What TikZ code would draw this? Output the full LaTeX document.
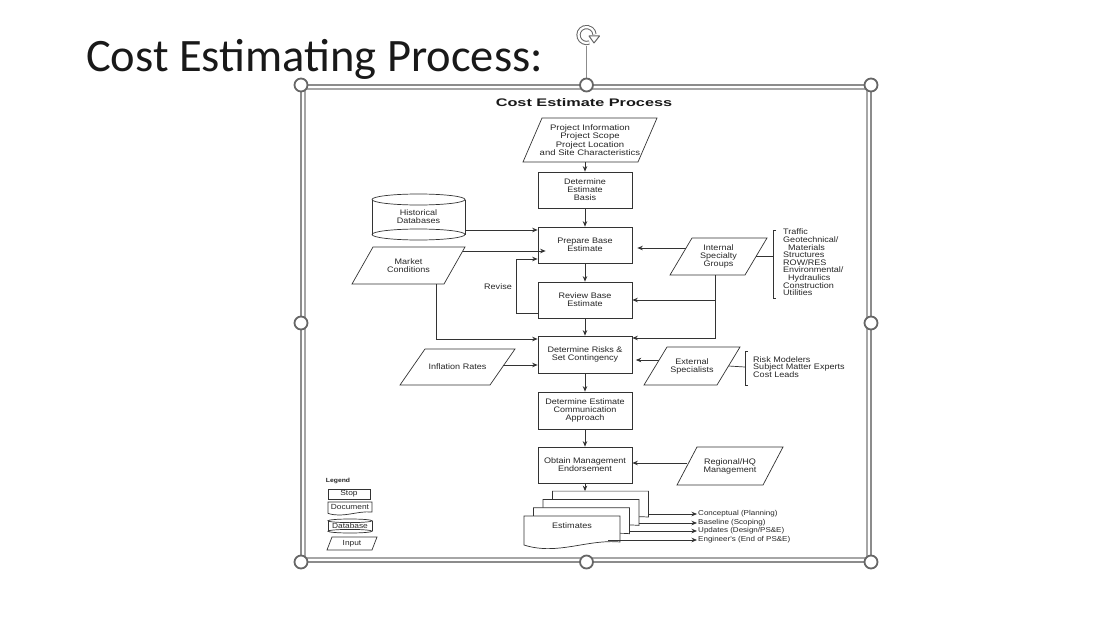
\documentclass[tikz,border=0pt]{standalone}
\usepackage{fontspec}
\usepackage{tikz}
\usetikzlibrary{calc,arrows,arrows.meta,shapes,positioning,shadows}

\newfontfamily\dgfont[FakeStretch=1.13]{Liberation Sans}
\newfontfamily\infofont[FakeStretch=1.19]{Liberation Sans}
\newfontfamily\hdfont[FakeStretch=1.48]{Liberation Sans}
\newfontfamily\slidefont{Carlito}

% slanted input box round a node, #2 = half of the slant
\newcommand\slantbox[2]{\draw[ln] ([shift={(-#2,0)}]#1.south west) -- ([shift={(#2,0)}]#1.north west) -- ([shift={(#2,0)}]#1.north east) -- ([shift={(-#2,0)}]#1.south east) -- cycle;}
% document sheet with a wavy bottom, #3 = width
\newcommand\docshape[3][]{\draw[ln,#1] ([shift={(0,#3/32)}]#2.south west) -- (#2.north west) -- (#2.north east) -- (#2.south east) .. controls ([shift={(-0.35*#3,-#3/32)}]#2.south east) and ([shift={(0.35*#3,#3/7)}]#2.south west) .. ([shift={(0,#3/32)}]#2.south west) -- cycle;}
% database drum, #2 = x radius, #3 = y radius
\newcommand\dbshape[3]{%
  \draw[ln] ([shift={(0,#3)}]#1.north) ellipse[x radius=#2, y radius=#3];
  \draw[ln] ([shift={(0,-#3)}]#1.south) ellipse[x radius=#2, y radius=#3];
  \draw[ln] ([shift={(0,#3)}]#1.north west) -- ([shift={(0,-#3)}]#1.south west);
  \draw[ln] ([shift={(0,#3)}]#1.north east) -- ([shift={(0,-#3)}]#1.south east);}

\begin{document}
\begin{tikzpicture}[x=1pt, y=-1pt,
  ln/.style={draw=black!80, line width=0.7pt},
  txt/.style={font=\dgfont\fontsize{8}{8}\selectfont, text=black!85, inner sep=1pt, align=center},
  proc/.style={txt, ln, fill=white, minimum width=94, minimum height=36, drop shadow={shadow xshift=1pt, shadow yshift=-1pt, fill=black!35}},
  inp/.style={txt, inner sep=0pt, outer sep=0pt},
  docn/.style={inner sep=0pt, outer sep=0pt, minimum width=96, minimum height=26},
  lgtxt/.style={txt, font=\dgfont\fontsize{7.4}{7.4}\selectfont, inner sep=0pt, outer sep=0pt},
  outtxt/.style={txt, font=\dgfont\fontsize{7.1}{7.1}\selectfont, anchor=west},
  frame/.style={draw=black!45, line width=1.1pt},
  handle/.style={draw=black!60, line width=1.8pt, fill=white},
  >={Stealth[length=5.5pt, width=4.5pt]}]
		\useasboundingbox (0,0) rectangle (1113,623);
		\node[anchor=base west, font=\slidefont\fontsize{46.5}{50}\selectfont, text=black!90, inner sep=0pt] (slide) at (86,72) {Cost Estimating Process:};
		\node[font=\hdfont\bfseries\fontsize{11}{11}\selectfont, text=black!90, inner sep=0pt] (ttl) at (584,103) {Cost Estimate Process};

		% main column
		\node[inp, font=\infofont\fontsize{8}{8.3}\selectfont, minimum width=115, minimum height=44] (info) at (590,140) {Project Information\\Project Scope\\Project Location\\and Site Characteristics};
		\slantbox{info}{9.5}
		\node[proc] (basis) at (585,190) {Determine\\Estimate\\Basis};
		\node[proc] (prep) at (585,245) {Prepare Base\\Estimate};
		\node[proc] (review) at (585,300) {Review Base\\Estimate};
		\node[proc, minimum height=37] (risk) at (585,354.5) {Determine Risks \&\\Set Contingency};
		\node[proc, minimum height=37] (comm) at (585,410.5) {Determine Estimate\\Communication\\Approach};
		\node[proc] (endorse) at (585,465) {Obtain Management\\Endorsement};

		% inputs
		\node[inp, minimum width=93, minimum height=46] (hist) at (418.5,217) {Historical\\Databases};
		\dbshape{hist}{46.5}{5.5}
		\node[inp, minimum width=92, minimum height=37] (market) at (408.5,265.5) {Market\\Conditions};
		\slantbox{market}{10.5}
		\node[inp, minimum width=75, minimum height=37] (internal) at (718.5,256.5) {Internal\\Specialty\\Groups};
		\slantbox{internal}{11}
		\node[inp, minimum width=90, minimum height=36] (inflation) at (457.5,367) {Inflation Rates};
		\slantbox{inflation}{12.5}
		\node[inp, minimum width=73, minimum height=38] (external) at (692,366) {External\\Specialists};
		\slantbox{external}{11.5}
		\node[inp, minimum width=86, minimum height=38] (regional) at (730,466) {Regional/HQ\\Management};
		\slantbox{regional}{10}

		\node[txt, anchor=north west, align=left, font=\dgfont\fontsize{8}{7.6}\selectfont, inner sep=0pt] (ilist) at (783,229) {Traffic\\Geotechnical/\\\hspace{5pt}Materials\\Structures\\ROW/RES\\Environmental/\\\hspace{5pt}Hydraulics\\Construction\\Utilities};
		\node[txt, anchor=west, align=left, font=\dgfont\fontsize{8}{7.5}\selectfont, inner sep=0pt] (elist) at (753,367) {Risk Modelers\\Subject Matter Experts\\Cost Leads};
		\node[txt] (rev) at (498,287) {Revise};

		% estimates stack
		\foreach \k in {4,3,2,1} {
			\node[docn] (est\k) at ({572+9.5*(\k-1)}, {529-8.3*(\k-1)}) {};
			\docshape[fill=white]{est\k}{96}
		}
		\node[txt] (esttxt) at ([shift={(0,-3)}]est1.center) {Estimates};
		\node[outtxt] (cpt) at (697,514) {Conceptual (Planning)};
		\node[outtxt] (bsl) at (697,523) {Baseline (Scoping)};
		\node[outtxt] (upd) at (697,531) {Updates (Design/PS\&E)};
		\node[outtxt] (eng) at (697,540) {Engineer's (End of PS\&E)};

		% connectors
		\draw[ln] (info.south -| basis.north) [->] to (basis);
		\draw[ln] (basis) [->] to (prep);
		\draw[ln] (prep) [->] to (review);
		\draw[ln] (review) [->] to (risk);
		\draw[ln] (risk) [->] to (comm);
		\draw[ln] (comm) [->] to (endorse);
		\draw[ln] (endorse) [->] to (est4.north -| endorse.south);
		\draw[ln] ([shift={(0,13)}]hist.east) [->] -- ([shift={(0,13)}]hist.east -| prep.west);
		\draw[ln] ([shift={(8,4)}]market.north east) [->] -- ([shift={(8,4)}]market.north east -| prep.west);
		\draw[ln] ([shift={(0,13)}]review.west) -- ++(-21,0) [->] |- ([shift={(0,14)}]prep.west);
		\draw[ln] ([shift={(27.5,0)}]market.south) [->] |- ([shift={(0,-15.5)}]risk.west);
		\draw[ln] ([shift={(5,-8.5)}]internal.west) [->] -- ([shift={(5,-8.5)}]internal.west -| prep.east);
		\coordinate (ig) at ([shift={(-3.5,0)}]internal.south);
		\draw[ln] (ig) [->] |- ([shift={(0,-16.5)}]risk.east);
		\draw[ln] (ig |- review.east) [->] -- (review.east);
		\draw[ln] ([shift={(3.5,-6)}]external.west) [->] -- ([shift={(3.5,-6)}]external.west -| risk.east);
		\draw[ln] ([shift={(0,-2)}]inflation.east) [->] -- ([shift={(0,-2)}]inflation.east -| risk.west);
		\draw[ln] ([shift={(0,-3)}]regional.west) [->] -- ([shift={(0,-3)}]regional.west -| endorse.east);
		\draw[ln] (est4.east |- cpt) [->] -- (cpt);
		\draw[ln] (est3.east |- bsl) [->] -- (bsl);
		\draw[ln] (est2.east |- upd) [->] -- (upd);
		\draw[ln] ([shift={(-12,0)}]est1.east |- eng) [->] -- (eng);

		% brackets
		\coordinate (ib) at ([shift={(-10,0)}]ilist.west |- internal.east);
		\draw[ln] (internal.east) -- (ib);
		\draw[ln] ([shift={(3,-26)}]ib) -- ++(-3,0) -- ++(0,68) -- ++(3,0);
		\coordinate (eb) at ([shift={(-8,0)}]elist.west);
		\draw[ln] (external.east) -- (eb);
		\draw[ln] ([shift={(3,-16)}]eb) -- ++(-3,0) -- ++(0,34) -- ++(3,0);

		% legend
		\node[font=\dgfont\bfseries\fontsize{6}{6}\selectfont, text=black!85, inner sep=0pt] (leg) at (338,481) {Legend};
		\node[lgtxt, ln, minimum width=42, minimum height=10] (legstop) at (349,494) {Stop};
		\node[lgtxt, minimum width=44, minimum height=10] (legdoc) at (350,507) {Document};
		\docshape{legdoc}{44}
		\node[lgtxt, minimum width=44, minimum height=14] (legdb) at (350,526) {Database};
		\dbshape{legdb}{22}{1.8}
		\node[lgtxt, minimum width=45, minimum height=13] (legin) at (352,543.5) {Input};
		\slantbox{legin}{2.5}

		% selection frame
		\draw[frame] (301,85) rectangle (871,562);
		\draw[frame, draw=black!35] (305,89) rectangle (867,558);
		\draw[frame, line width=0.8pt] (586.5,46) -- (586.5,78);
		\foreach \p in {(301,85),(586.5,85),(871,85),(301,323),(871,323),(301,562),(586.5,562),(871,562)} {
			\draw[handle] \p circle (6.5);
		}
		\begin{scope}[shift={(586.5,35)}, yscale=-1]
			\draw[draw=black!60, line width=1pt, double=white, double distance=2.2pt] (-70:8) arc[start angle=-70, end angle=-355, radius=8];
			\draw[draw=black!60, line width=1pt, fill=white, line join=round] (2.5,-1) -- (13,-1) -- (7.5,-8) -- cycle;
		\end{scope}
	\end{tikzpicture}
\end{document}
